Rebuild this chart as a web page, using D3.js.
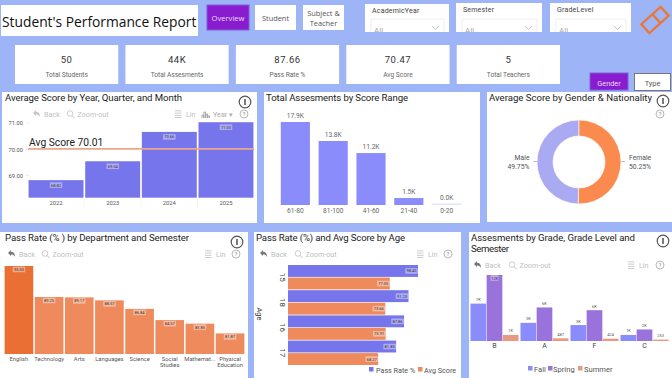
<!DOCTYPE html>
<html>
<head>
<meta charset="utf-8">
<script src="https://cdn.jsdelivr.net/npm/d3@7"></script>
<style>
  html, body { margin: 0; padding: 0; background: #9db5f7; overflow: hidden; }
  svg { display: block; }
  text { font-family: Roboto, sans-serif; }
</style>
</head>
<body>
<div id="chart"></div>
<script>
const kpiValues = ["50", "44K", "87.66", "70.47", "5"];
const kpiLabels = ["Total Students", "Total Assesments", "Pass Rate %", "Avg Score", "Total Teachers"];
const filterNames = ["AcademicYear", "Semester", "GradeLevel"];

const years = ["2022", "2023", "2024", "2025"];
const yearScores = [68.82, 69.54, 70.66, 71.03];
const yearTicks = [69, 70, 71];
const avgScoreLine = 70.01;

const scoreRanges = ["61-80", "81-100", "41-60", "21-40", "0-20"];
const rangeCounts = [17900, 13800, 11200, 1500, 30];

const genders = ["Male", "Female"];
const genderShares = [49.75, 50.25];

const departments = ["English", "Technology", "Arts", "Languages", "Science", "Social Studies", "Mathemat...", "Physical Education"];
const deptPassRates = [95.53, 89.25, 89.17, 88.57, 86.84, 84.57, 83.85, 81.87];

const ages = ["15", "18", "16", "17"];
const agePassRates = [98.43, 91.23, 87.86, 81.85];
const ageAvgScores = [77.05, 73.66, 73.91, 68.27];

const grades = ["B", "A", "F", "C"];
const semesters = ["Fall", "Spring", "Summer"];
const gradeFall = [6800, 3300, 2900, 1100];
const gradeSpring = [12000, 6100, 5600, 2100];
const gradeSummer = [1100, 487, 424, 253];

const svg = d3.select("#chart").append("svg").attr("width", 672).attr("height", 378);

function box(x, y, w, h, fill = "#fff", stroke = "none") {
  return svg.append("rect").attr("x", x).attr("y", y).attr("width", w).attr("height", h)
    .attr("fill", fill).attr("stroke", stroke);
}

function label(x, y, str, size, fill = "#333", anchor = "start", parent = svg) {
  return parent.append("text").attr("x", x).attr("y", y).attr("font-size", size)
    .attr("fill", fill).attr("text-anchor", anchor).text(str);
}

// the little value tag that sits inside the bars
function tag(x, y, str) {
  const w = str.length * 2.3 + 1;
  svg.append("rect").attr("x", x - w / 2).attr("y", y - 2.8).attr("width", w).attr("height", 5.6)
    .attr("fill", "#fff").attr("opacity", 0.4);
  label(x, y + 1.5, str, 4, "#333", "middle");
}

function infoIcon(x, y) {
  svg.append("circle").attr("cx", x).attr("cy", y).attr("r", 5.8)
    .attr("fill", "#fff").attr("stroke", "#555").attr("stroke-width", 1.2);
  svg.append("rect").attr("x", x - 0.7).attr("y", y - 3).attr("width", 1.4).attr("height", 6).attr("fill", "#444");
}

function helpIcon(x, y) {
  svg.append("circle").attr("cx", x).attr("cy", y).attr("r", 4)
    .attr("fill", "none").attr("stroke", "#999").attr("stroke-width", 0.7);
  label(x, y + 2.2, "?", 6, "#888", "middle");
}

function toolbar(y, backX, zoomX, linX, helpX, backFill) {
  const g = "#c0c0c0";
  svg.append("path").attr("transform", `translate(${backX},${y})`)
    .attr("d", "M-3,-1 L0,-4 L0,-2.2 C3,-2.2 4,0 4,3 C3,1 2,0.4 0,0.4 L0,2 Z").attr("fill", backFill);
  label(backX + 8, y + 2.6, "Back", 7.2, g);
  svg.append("circle").attr("cx", zoomX).attr("cy", y - 0.5).attr("r", 2.8)
    .attr("fill", "none").attr("stroke", g).attr("stroke-width", 0.8);
  svg.append("path").attr("d", `M${zoomX + 2},${y + 1.5} L${zoomX + 4.5},${y + 4}`).attr("stroke", g).attr("stroke-width", 1);
  label(zoomX + 7.5, y + 2.6, "Zoom-out", 7.2, g);
  d3.range(4).forEach(i => {
    svg.append("rect").attr("x", linX - 3).attr("y", y - 3.5 + i * 2.2).attr("width", 6.5).attr("height", 0.8).attr("fill", g);
  });
  label(linX + 8, y + 2.6, "Lin", 7.2, g);
  helpIcon(helpX, y);
}

function chartTitle(x, y, str, width) {
  label(x, y, str, 9.6, "#222")
    .attr("textLength", width).attr("lengthAdjust", "spacing");
}

function cleanAxis(g, size, fill = "#555") {
  g.select(".domain").remove();
  g.selectAll(".tick line").remove();
  g.selectAll(".tick text").attr("font-family", "Roboto, sans-serif").attr("font-size", size).attr("fill", fill);
}

// ---- header ----
box(1, 5, 197, 31);
label(2, 26.5, "Student's Performance Report", 13.8, "#111").style("font-family", "'Open Sans', sans-serif");

box(207, 5, 42, 25, "#8a1ccf", "#7d5fd8");
label(228, 20.5, "Overview", 7.6, "#e8dcf8", "middle").style("font-family", "'Open Sans', sans-serif");
box(255, 5, 41, 25);
label(275.5, 20.5, "Student", 7.4, "#555", "middle").style("font-family", "'Open Sans', sans-serif");
box(303, 5, 41, 25);
label(323.5, 16, "Subject &", 7.4, "#555", "middle").style("font-family", "'Open Sans', sans-serif");
label(323.5, 26, "Teacher", 7.4, "#555", "middle").style("font-family", "'Open Sans', sans-serif");

// filter cards, the drop-downs are cut off by the card edge
const filterX = [365, 456, 550];
const filterW = [84, 86, 81];
const defs = svg.append("defs");
filterNames.forEach((name, i) => {
  const x = filterX[i], w = filterW[i];
  const top = i === 0 ? 4 : 3;
  box(x, top, w, 32 - top);
  label(x + 7, top + 9, name, 7, "#444").attr("letter-spacing", 0.2);
  defs.append("clipPath").attr("id", "clip" + i).append("rect").attr("x", x).attr("y", top).attr("width", w).attr("height", 32 - top);
  const g = svg.append("g").attr("clip-path", `url(#clip${i})`);
  g.append("rect").attr("x", x + 6).attr("y", 19).attr("width", w - 11).attr("height", 16)
    .attr("fill", "#fff").attr("stroke", "#e4e4e4").attr("stroke-width", 0.6);
  label(x + 9, 33, "All", 8, "#aaa", "start", g);
  g.append("path").attr("d", `M${x + w - 17},26 l3.5,3.5 l3.5,-3.5`).attr("fill", "none").attr("stroke", "#aaa").attr("stroke-width", 0.7);
});

// logo
const logo = svg.append("g").attr("transform", "translate(655,20) rotate(-42)")
  .attr("fill", "none").attr("stroke", "#e8793a").attr("stroke-width", 2.4);
logo.append("rect").attr("x", -13).attr("y", -6).attr("width", 26).attr("height", 12);
logo.append("path").attr("d", "M2,-6 L2,6");

// kpi cards
const kpiX = d3.scaleBand().domain(kpiLabels).range([15, 560]).paddingInner(0.065).paddingOuter(0);
kpiLabels.forEach((name, i) => {
  const x = kpiX(name), w = kpiX.bandwidth();
  box(x, 45, w, 39);
  label(x + w / 2, 63, kpiValues[i], 9.5, "#333", "middle").attr("letter-spacing", 0.5);
  label(x + w / 2, 77, name, 6.6, "#666", "middle");
});

box(590, 73, 38, 17, "#8a1ccf", "#7d5fd8");
label(609, 86, "Gender", 7.4, "#e8dcf8", "middle");
box(634.5, 73.5, 36, 17, "#fff", "#777");
label(652.5, 86, "Type", 7.4, "#555", "middle");

// ---- panels ----
box(2, 92, 255, 131);
box(264, 92, 216, 131);
box(487, 92, 185, 130);
box(0, 232, 248, 146);
box(254, 232, 207, 146);
box(469, 232, 203, 146);

// ---- average score by year ----
chartTitle(5, 100.5, "Average Score by Year, Quarter, and Month", 177);
infoIcon(245, 102);
toolbar(114, 36, 70, 178, 244, "#c8c8c8");
svg.append("path").attr("d", "M202,118 v-3 h1.5 v3 m0.5,0 v-6 h1.5 v6 m0.5,0 v-4 h1.5 v4 m0.5,0 v-2 h1.5 v2").attr("stroke", "#999").attr("stroke-width", 0.8).attr("fill", "none");
label(213, 116.6, "Year \u25BE", 7.2, "#aaa");

const yearX = d3.scaleBand().domain(years).range([28, 254]).paddingInner(0.03).paddingOuter(0.01);
const yearY = d3.scaleLinear().domain([68.15, 71]).range([197.7, 123]);

svg.selectAll(".year-bar").data(years).join("rect").attr("class", "year-bar")
  .attr("x", d => yearX(d)).attr("width", yearX.bandwidth())
  .attr("y", (d, i) => yearY(yearScores[i]))
  .attr("height", (d, i) => yearY.range()[0] - yearY(yearScores[i]))
  .attr("fill", "#7775ec");

svg.append("g").attr("transform", "translate(26,0)")
  .call(d3.axisLeft(yearY).tickValues(yearTicks).tickFormat(d3.format(".2f")).tickSize(0))
  .call(g => cleanAxis(g, 5.8));
yearTicks.forEach(t => {
  svg.append("line").attr("x1", 26).attr("x2", 29).attr("y1", yearY(t)).attr("y2", yearY(t)).attr("stroke", "#ddd").attr("stroke-width", 0.6);
});
svg.append("g").attr("transform", "translate(0,198)")
  .call(d3.axisBottom(yearX).tickSize(0).tickPadding(3))
  .call(g => cleanAxis(g, 5.8));
years.slice(1).forEach(d => {
  const x = yearX(d) - 1;
  svg.append("line").attr("x1", x).attr("x2", x).attr("y1", 198).attr("y2", 207).attr("stroke", "#eee").attr("stroke-width", 0.6);
});
years.forEach((d, i) => tag(yearX(d) + yearX.bandwidth() / 2, yearY(yearScores[i]) + 5, d3.format(".2f")(yearScores[i])));

svg.append("line").attr("x1", 28).attr("x2", 254).attr("y1", yearY(avgScoreLine)).attr("y2", yearY(avgScoreLine))
  .attr("stroke", "#eda58d").attr("stroke-width", 1.8);
label(29, yearY(avgScoreLine) - 2.5, "Avg Score " + avgScoreLine, 10.3, "#222");

// ---- assessments by score range ----
chartTitle(266, 100.5, "Total Assesments by Score Range", 142);
const rangeX = d3.scaleBand().domain(scoreRanges).range([277, 465]).paddingInner(0.23).paddingOuter(0.1);
const rangeY = d3.scaleLinear().domain([0, d3.max(rangeCounts)]).range([205, 122]);
const rangeFmt = d => (d / 1000).toFixed(1) + "K";

svg.selectAll(".range-bar").data(scoreRanges).join("rect").attr("class", "range-bar")
  .attr("x", d => rangeX(d)).attr("width", rangeX.bandwidth())
  .attr("y", (d, i) => i === 4 ? 203.5 : rangeY(rangeCounts[i]))
  .attr("height", (d, i) => i === 4 ? 1.5 : 205 - rangeY(rangeCounts[i]))
  .attr("fill", (d, i) => i === 4 ? "#e4e4fd" : "#8a8cfb");
scoreRanges.forEach((d, i) => {
  const yTop = i === 4 ? 203.5 : rangeY(rangeCounts[i]);
  label(rangeX(d) + rangeX.bandwidth() / 2, yTop - 4, rangeFmt(rangeCounts[i]), 6.6, "#666", "middle");
});
svg.append("g").attr("transform", "translate(0,206)")
  .call(d3.axisBottom(rangeX).tickSize(0).tickPadding(2))
  .call(g => cleanAxis(g, 6.6, "#666"));

// ---- donut ----
chartTitle(489, 100.5, "Average Score by Gender & Nationality", 163);
infoIcon(663, 101);
helpIcon(660, 114);
const pie = d3.pie().sort(null).startAngle(2 * Math.PI).endAngle(0);
const arc = d3.arc().innerRadius(26).outerRadius(42);
const donutFill = ["#aaaaf2", "#fb8a4f"];
svg.append("g").attr("transform", "translate(579,162)")
  .selectAll("path").data(pie(genderShares)).join("path")
  .attr("d", arc).attr("fill", (d, i) => donutFill[i]).attr("stroke", "#fff").attr("stroke-width", 0.6);
svg.append("path").attr("d", "M533,161.5 h4 M621,161.5 h4").attr("stroke", "#999").attr("stroke-width", 0.6);
genders.forEach((d, i) => {
  const x = i === 0 ? 529.5 : 629;
  const anchor = i === 0 ? "end" : "start";
  label(x, 160, d, 6.8, "#555", anchor);
  label(x, 169, genderShares[i].toFixed(2) + "%", 6.8, "#555", anchor);
});

// ---- pass rate by department ----
chartTitle(5, 240.5, "Pass Rate (% ) by Department and Semester", 184);
infoIcon(237, 242);
toolbar(254, 11, 45, 208, 236, "#777");
const deptX = d3.scaleBand().domain(departments).range([4, 245]).paddingInner(0.05).paddingOuter(0.02);
const deptY = d3.scaleLinear().domain([77.7, d3.max(deptPassRates)]).range([354, 266]);
svg.selectAll(".dept-bar").data(departments).join("rect").attr("class", "dept-bar")
  .attr("x", d => deptX(d)).attr("width", deptX.bandwidth())
  .attr("y", (d, i) => deptY(deptPassRates[i]))
  .attr("height", (d, i) => 354 - deptY(deptPassRates[i]))
  .attr("fill", (d, i) => i === 0 ? "#e96f35" : "#ee8a5c");
departments.forEach((d, i) => {
  const cx = deptX(d) + deptX.bandwidth() / 2;
  tag(cx, deptY(deptPassRates[i]) + 3.5, deptPassRates[i].toFixed(2));
  const words = d.indexOf(" ") > 0 ? d.split(" ") : [d];
  words.forEach((w, k) => label(cx, 360.5 + k * 6.8, w, 5.8, "#555", "middle"));
});

// ---- pass rate and avg score by age ----
chartTitle(256, 240.5, "Pass Rate (%) and Avg Score by Age", 149);
toolbar(254, 263, 298, 420, 448, "#777");
const ageY = d3.scaleBand().domain(ages).range([265, 365]).paddingInner(0.03);
const ageSub = d3.scaleBand().domain([0, 1]).range([0, ageY.bandwidth()]).paddingInner(0.05);
const ageX = d3.scaleLinear().domain([0, d3.max(agePassRates)]).range([288, 418]);
[[agePassRates, "#7775ec"], [ageAvgScores, "#ee8a5c"]].forEach(([vals, color], s) => {
  svg.selectAll(".age-bar" + s).data(ages).join("rect").attr("class", "age-bar" + s)
    .attr("x", ageX(0)).attr("y", d => ageY(d) + ageSub(s))
    .attr("width", (d, i) => ageX(vals[i]) - ageX(0)).attr("height", ageSub.bandwidth())
    .attr("fill", color);
  ages.forEach((d, i) => tag(ageX(vals[i]) - 6.5, ageY(d) + ageSub(s) + ageSub.bandwidth() / 2, vals[i].toFixed(2)));
});
ages.forEach(d => {
  const y = ageY(d) + ageY.bandwidth() / 2;
  svg.append("text").attr("transform", `translate(279.5,${y}) rotate(90)`).attr("text-anchor", "middle")
    .attr("font-size", 8).attr("fill", "#444").text(d);
});
svg.append("text").attr("transform", "translate(257,314) rotate(90)").attr("text-anchor", "middle")
  .attr("font-size", 7.5).attr("fill", "#333").text("Age");
box(369, 367, 4.5, 4.5, "#7775ec");
label(376, 373, "Pass Rate %", 7.2, "#555");
box(418, 367, 4.5, 4.5, "#ee8a5c");
label(424, 373, "Avg Score", 7.2, "#555");

// ---- assessments by grade ----
chartTitle(471, 240.5, "Assesments by Grade, Grade Level and", 164);
chartTitle(471, 251.5, "Semester", 38);
infoIcon(663, 241);
toolbar(265, 477, 512, 631, 660, "#777");
const gradeX = d3.scaleBand().domain(grades).range([470, 669]).paddingInner(0.02).paddingOuter(0);
const gradeSub = d3.scaleBand().domain(semesters).range([0, gradeX.bandwidth()]).padding(0.03);
const gradeY = d3.scaleLinear().domain([0, d3.max(gradeSpring)]).range([341, 275]);
const gradeFill = ["#8a8cfb", "#9a72dc", "#e89a80"];
const gradeFmt = d => d >= 1000 ? Math.round(d / 1000) + "K" : String(d);
[gradeFall, gradeSpring, gradeSummer].forEach((vals, s) => {
  svg.selectAll(".grade-bar" + s).data(grades).join("rect").attr("class", "grade-bar" + s)
    .attr("x", d => gradeX(d) + gradeSub(semesters[s])).attr("width", gradeSub.bandwidth())
    .attr("y", (d, i) => gradeY(vals[i])).attr("height", (d, i) => 341 - gradeY(vals[i]))
    .attr("fill", gradeFill[s]);
  grades.forEach((d, i) => {
    const cx = gradeX(d) + gradeSub(semesters[s]) + gradeSub.bandwidth() / 2;
    if (vals[i] === d3.max(gradeSpring)) tag(cx, gradeY(vals[i]) + 3, gradeFmt(vals[i]));
    else label(cx, gradeY(vals[i]) - 2.5, gradeFmt(vals[i]), 4, "#555", "middle");
  });
});
svg.append("g").attr("transform", "translate(0,341)")
  .call(d3.axisBottom(gradeX).tickSize(0).tickPadding(2))
  .call(g => cleanAxis(g, 7, "#444"));
const legendX = [528, 548, 578];
const legendTextX = [534, 553, 584];
semesters.forEach((d, i) => {
  box(legendX[i], 366, 4.5, 4.5, gradeFill[i]);
  label(legendTextX[i], 372, d, 7.6, "#555");
});
</script>
</body>
</html>
